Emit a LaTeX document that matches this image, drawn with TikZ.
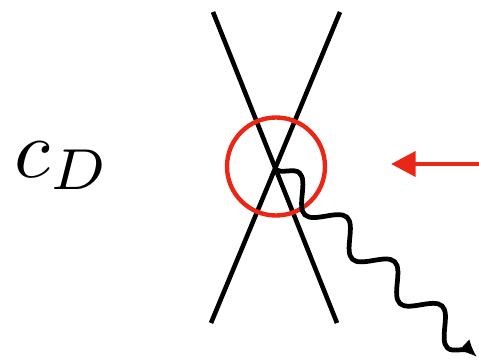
\documentclass[tikz,border=0pt]{standalone}
\usepackage{amsmath}
\usepackage{tikz}
\usetikzlibrary{arrows.meta,decorations.pathmorphing,positioning}

\definecolor{vred}{RGB}{234,39,22}

\begin{document}
\begin{tikzpicture}[x=0.02cm,y=-0.02cm,
  leg/.style={line width=2.6pt},
  ring/.style={draw=vred,line width=2.5pt,circle,minimum size=98*0.02cm,inner sep=0pt},
  photon/.style={line width=2.7pt,-{Latex[length=10pt,width=9pt]},
    decorate,decoration={snake,amplitude=0.27cm,segment length=1.3cm,post length=4pt}},
  push/.style={draw=vred,line width=2.8pt,-{Triangle[length=14pt,width=14pt]}}]
\useasboundingbox (0,0) rectangle (479,361);

% Legs of the vertex
\coordinate (ul) at (213,12);
\coordinate (ur) at (340,12);
\coordinate (ll) at (211,323);
\coordinate (lr) at (337,323);
\draw[leg] (ul) -- (lr);
\draw[leg] (ur) -- (ll);

% Vertex and its ring
\coordinate (vtx) at (275.5,169);
\node[ring] (blob) at (276,166.5) {};

% Emitted photon
\coordinate (out) at (477,357);
\draw[photon] (vtx) -- (out);

% Incoming arrow
\coordinate (src) at (479,164);
\coordinate (dst) at (391,164);
\draw[push] (src) -- (dst);

% Coupling label
\node[scale=4.7,anchor=base west,inner sep=0pt] (cD) at (13,177) {$c_D$};
\end{tikzpicture}
\end{document}
